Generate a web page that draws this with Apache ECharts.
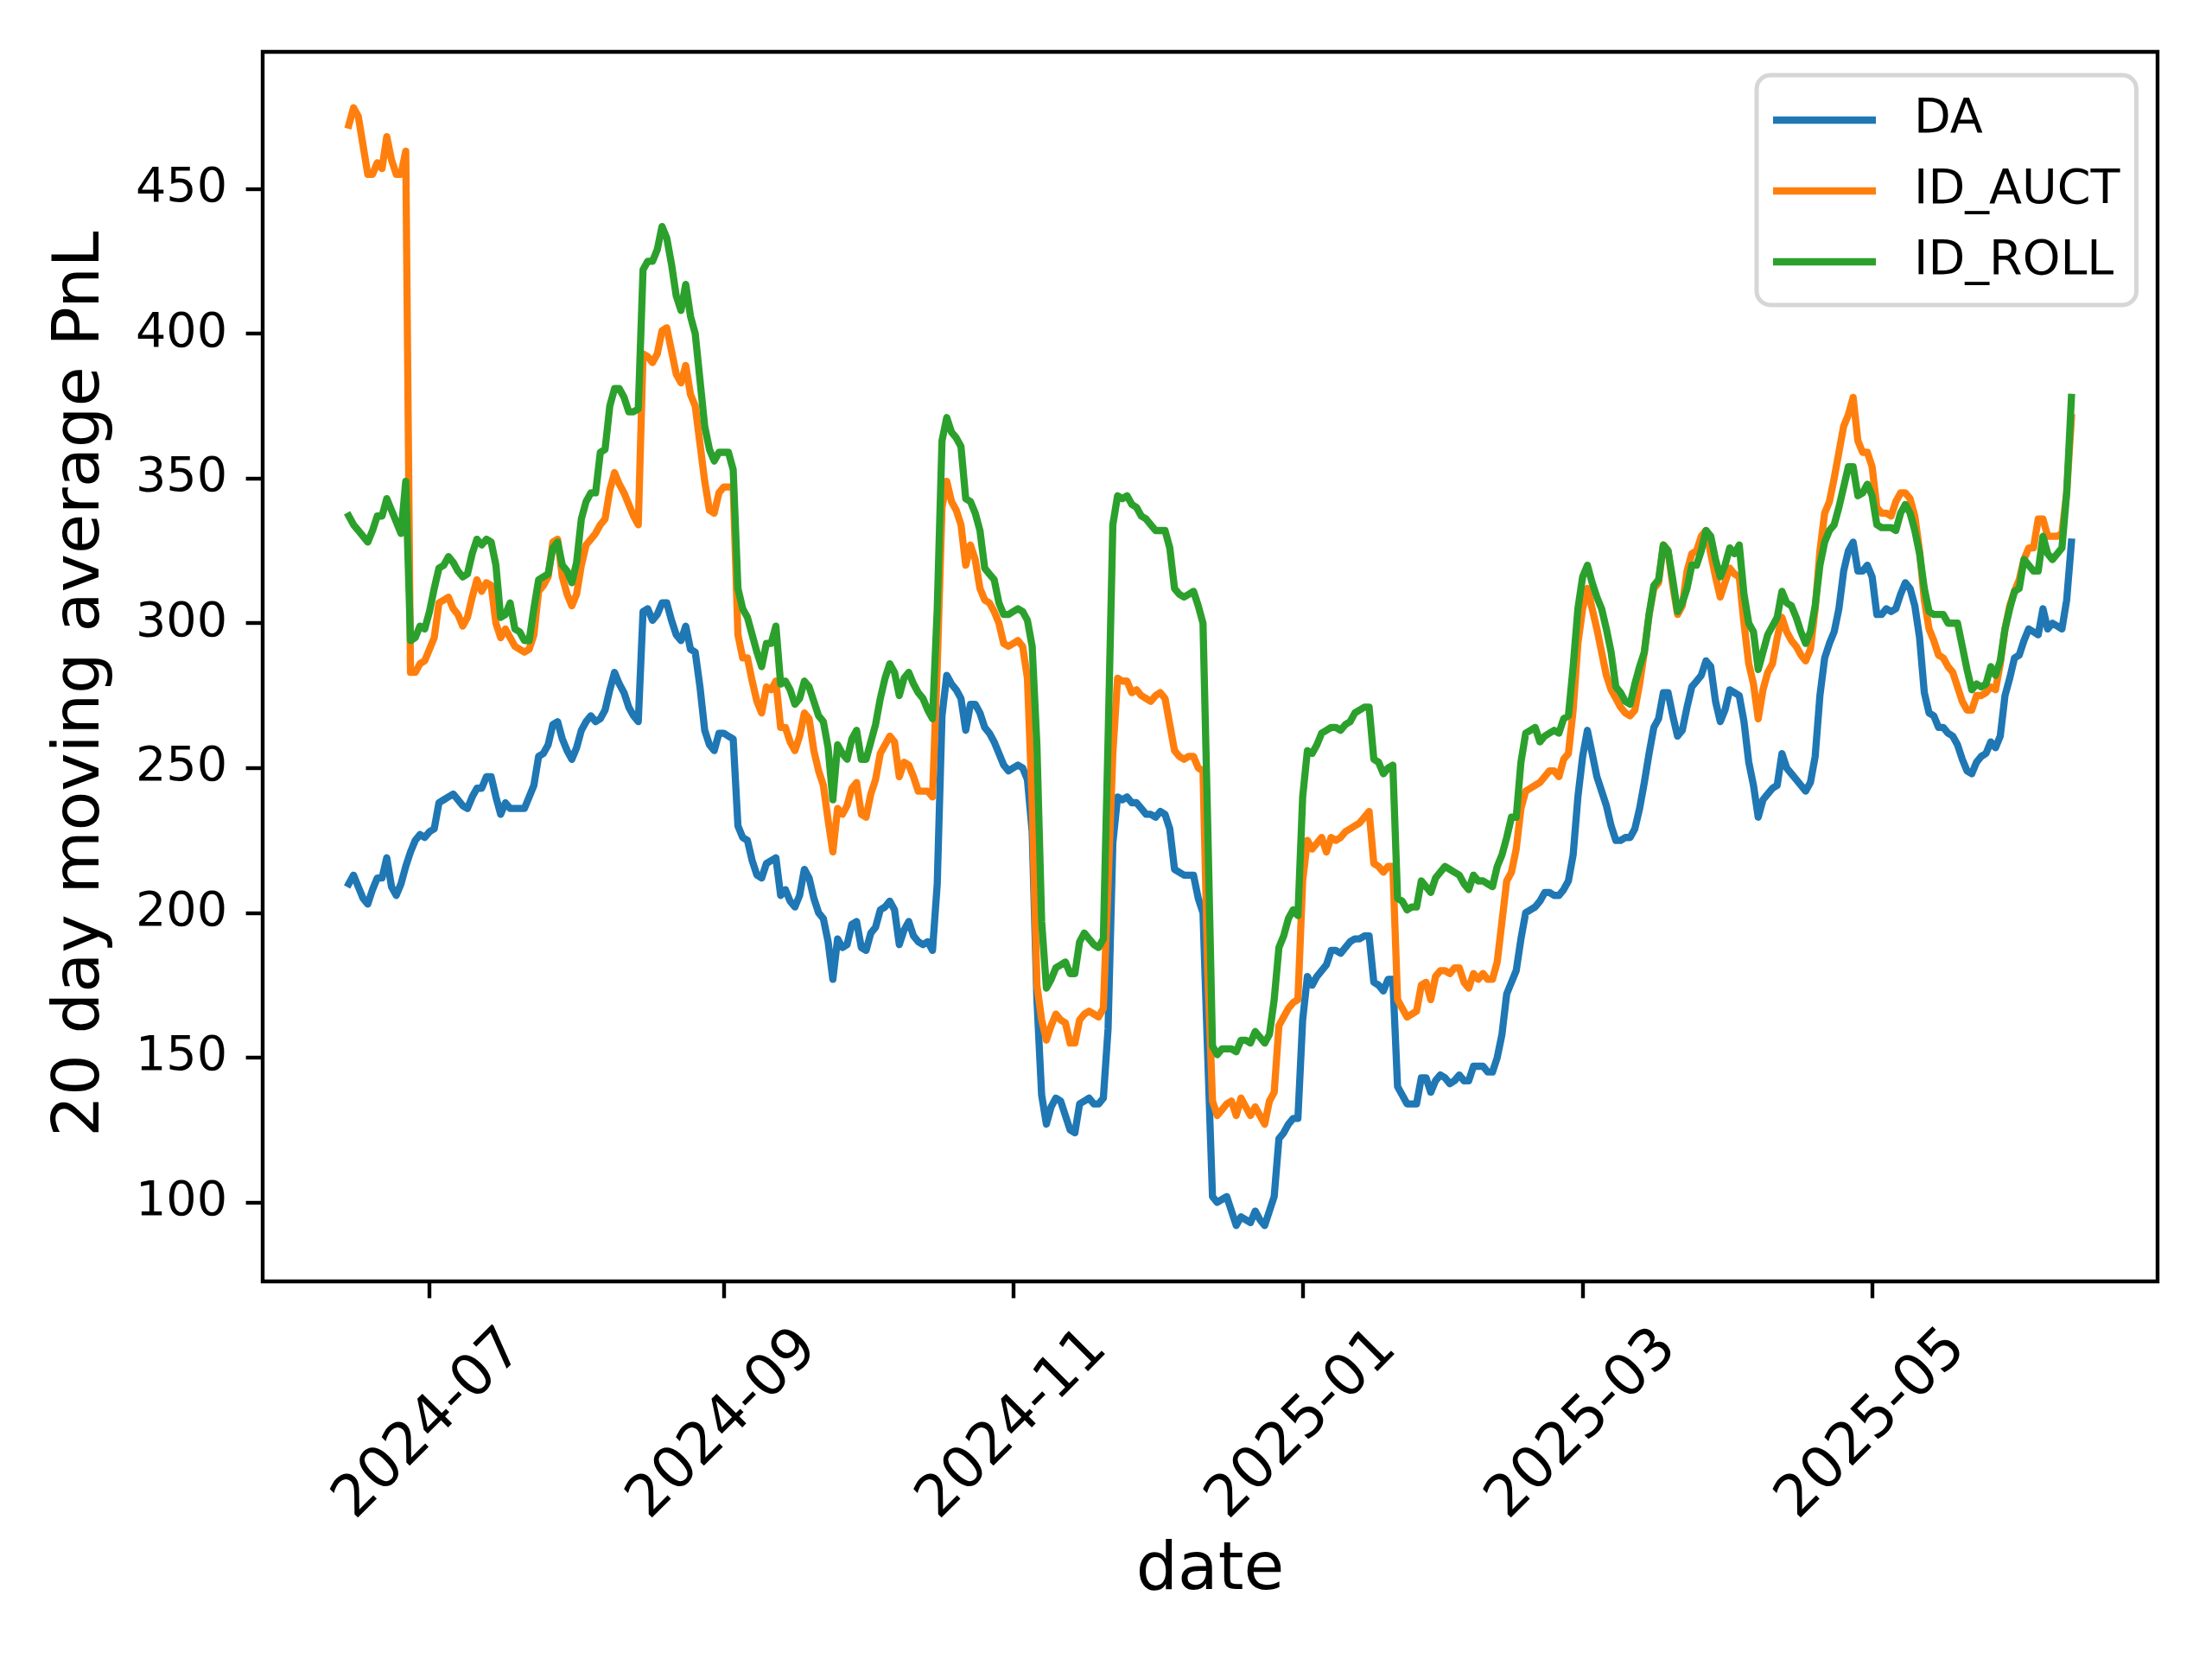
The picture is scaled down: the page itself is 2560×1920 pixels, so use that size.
<!DOCTYPE html>
<html>
<head>
<meta charset="utf-8">
<script src="https://cdn.jsdelivr.net/npm/echarts@6/dist/echarts.min.js"></script>
<style>
html,body{margin:0;padding:0;background:#ffffff;}
#chart{width:2560px;height:1920px;}
</style>
</head>
<body>
<div id="chart"></div>
<script>
// ---- data (daily, first date below) ----
const START_DATE = '2024-06-14';
const seriesNames = ['DA', 'ID_AUCT', 'ID_ROLL'];

const DA = [
210,213,209,205,203,208,212,212,219,209,206,210,216,
221,225,227,226,
228,229,238,239,240,241,239,237,236,240,
243,243,247,247,240,234,238,236,236,236,
236,240,244,254,255,258,265,266,260,256,
253,257,263,266,268,266,267,270,277,283,
279,276,271,268,266,304,305,301,303,307,
307,301,296,294,299,291,290,278,263,258,
256,262,262,261,260,230,226,225,218,213,
212,217,218,219,206,208,204,202,206,215,
212,205,200,198,190,177,191,188,189,196,
197,188,187,193,195,201,202,204,201,189,
194,197,192,190,189,190,187,210,268,282,
279,277,274,263,272,272,269,264,262,259,
255,251,249,250,251,250,246,228,170,137,
127,133,136,135,130,125,124,134,135,136,
134,134,136,160,224,240,239,240,238,238,
236,234,234,233,235,234,229,215,214,213,
213,213,205,200,150,102,100,101,102,97,
92,95,94,93,97,94,92,97,102,122,
124,127,129,129,163,178,175,178,180,182,
187,187,186,188,190,191,191,192,192,176,
175,173,177,177,140,137,134,134,134,143,
143,138,142,144,143,141,142,144,142,142,
147,147,147,145,145,150,158,172,176,180,
191,200,201,202,204,207,207,206,206,208,
211,220,240,254,263,255,247,242,237,230,
225,225,226,226,229,236,245,255,264,267,
276,276,268,261,263,271,278,280,282,287,
285,273,266,270,277,276,275,266,252,244,
233,239,241,243,244,255,250,248,246,244,
242,245,254,275,288,293,297,305,318,325,
328,318,318,320,316,303,303,305,304,305,
310,314,312,306,295,276,269,268,264,264,
262,261,258,253,249,248,252,254,255,259,
257,261,275,281,288,289,294,298,297,296,
305,298,300,299,298,308,328
];

const ID_AUCT = [
472,478,475,465,455,455,459,457,468,460,455,455,463,
283,283,286,287,
291,295,307,308,309,305,303,299,302,309,
315,311,314,313,300,295,298,295,292,291,
290,291,296,311,313,316,328,329,316,310,
306,310,320,327,329,331,334,336,346,352,
348,345,341,337,334,393,392,390,393,401,
402,394,386,383,389,379,375,362,349,339,
338,345,347,347,347,296,288,288,280,273,
269,278,277,280,264,264,259,256,261,269,
267,256,249,244,232,221,236,234,237,243,
245,234,233,241,246,255,258,261,259,247,
252,251,247,242,242,242,240,285,340,349,
342,339,334,320,327,322,312,308,307,304,
300,293,292,293,294,292,281,238,175,163,
156,161,165,163,162,155,155,163,165,166,
165,164,167,210,255,281,280,280,276,277,
275,274,273,275,276,274,265,256,254,253,
254,254,250,249,180,135,130,132,134,135,
130,136,133,130,133,130,127,135,138,161,
164,167,169,170,211,225,222,224,226,221,
226,225,226,228,229,230,231,233,235,217,
216,214,216,216,170,167,164,165,166,175,
176,170,178,180,180,179,181,181,176,174,
179,177,179,177,177,183,197,211,214,222,
236,242,243,244,245,247,249,249,247,253,
255,270,293,305,312,305,298,290,282,277,
274,271,269,268,270,279,290,303,312,314,
327,325,313,303,306,318,324,325,330,332,
324,316,309,314,319,317,316,300,286,279,
267,277,283,286,295,302,297,294,292,289,
287,291,305,325,338,342,350,359,368,372,
378,363,359,359,354,340,338,338,337,342,
345,345,343,337,325,308,298,294,289,288,
285,283,278,273,270,270,275,275,276,278,
277,286,298,306,311,315,322,326,326,336,
336,330,330,330,331,345,371
];

const ID_ROLL = [
337,334,332,330,328,332,337,337,343,339,335,331,349,
294,295,299,298,
304,312,319,320,323,321,318,316,317,324,
329,327,329,328,320,302,303,307,298,297,
294,294,305,315,316,317,326,328,320,318,
314,321,336,342,345,345,359,360,375,381,
381,378,373,373,374,422,425,425,429,437,
433,424,413,408,417,406,400,384,368,360,
356,359,359,359,353,312,305,302,296,290,
285,293,293,299,279,280,277,272,274,280,
278,273,268,266,257,239,258,255,253,260,
263,253,253,259,265,274,281,286,283,275,
281,283,279,276,274,270,267,305,363,371,
366,364,361,343,342,338,332,319,317,315,
307,303,303,304,305,304,301,292,258,197,
174,177,181,182,183,179,179,190,193,191,
189,188,191,260,334,344,343,344,341,340,
337,336,334,332,332,332,326,312,310,309,
310,311,306,300,230,154,151,153,153,153,
152,156,156,155,159,157,155,158,170,188,
192,198,201,199,240,256,255,258,262,263,
264,264,263,265,266,269,270,271,271,253,
252,248,250,251,205,204,201,202,202,211,
209,207,212,214,216,215,214,213,210,208,
213,211,211,210,209,216,220,226,233,233,
252,262,263,264,259,261,262,263,262,267,
268,285,305,316,320,314,309,305,298,290,
278,276,273,272,279,285,290,303,313,315,
327,325,315,304,307,312,320,320,325,332,
330,322,316,320,326,324,327,310,300,297,
284,290,296,299,302,311,307,306,302,297,
293,297,306,320,328,332,334,340,347,354,
354,344,345,348,344,334,333,333,333,332,
338,341,338,332,324,312,304,303,303,303,
300,300,300,292,284,277,279,278,279,285,
282,287,298,305,311,312,322,320,318,318,
330,324,322,324,326,345,378
];

const xTickLabels = ['2024-07', '2024-09', '2024-11', '2025-01', '2025-03', '2025-05'];
const yTickValues = [100, 150, 200, 250, 300, 350, 400, 450];
const xAxisTitle = 'date';
const yAxisTitle = '20 day moving average PnL';
const colors = ['#1f77b4', '#ff7f0e', '#2ca02c'];

// ---- build ----
const DAY = 86400000;
const t0 = Date.parse(START_DATE + 'T00:00:00Z');
const dates = DA.map((_, i) => t0 + i * DAY);
const toPairs = arr => arr.map((v, i) => [dates[i], v]);
const xTicks = xTickLabels.map(s => Date.parse(s + '-01T00:00:00Z'));

const tSpan = dates[dates.length - 1] - dates[0];
const xMin = dates[0] - 0.05 * tSpan;
const xMax = dates[dates.length - 1] + 0.05 * tSpan;
const allVals = DA.concat(ID_AUCT, ID_ROLL);
const vMin = Math.min.apply(null, allVals);
const vMax = Math.max.apply(null, allVals);
const vSpan = vMax - vMin;
const yMin = vMin - 0.05 * vSpan;
const yMax = vMax + 0.05 * vSpan;

const FONT = 'DejaVu Sans';
const LW = 8.3;
const SPINE = 4.4;

const seriesData = [DA, ID_AUCT, ID_ROLL];

const chart = echarts.init(document.getElementById('chart'), null, {renderer: 'canvas'});
chart.setOption({
  animation: false,
  backgroundColor: '#ffffff',
  grid: {
    left: 304, top: 60, width: 2193, height: 1423,
    show: true, borderColor: '#000000', borderWidth: SPINE, backgroundColor: 'transparent'
  },
  xAxis: {
    type: 'value',
    min: xMin, max: xMax,
    scale: true,
    name: xAxisTitle,
    nameLocation: 'middle',
    nameGap: 298,
    nameTextStyle: {fontFamily: FONT, fontSize: 76, color: '#000'},
    axisLine: {show: false},
    splitLine: {show: false},
    axisTick: {show: true, inside: false, length: 19.4, customValues: xTicks,
      lineStyle: {color: '#000', width: SPINE}},
    axisLabel: {
      customValues: xTicks,
      rotate: 45, align: 'center', verticalAlign: 'middle', margin: 166,
      fontFamily: FONT, fontSize: 66.7, color: '#000',
      formatter: function (v) {
        const i = xTicks.indexOf(v);
        return i >= 0 ? xTickLabels[i] : '';
      }
    }
  },
  yAxis: {
    type: 'value',
    min: yMin, max: yMax,
    name: yAxisTitle,
    nameLocation: 'middle',
    nameRotate: 90,
    nameGap: 172,
    nameTextStyle: {fontFamily: FONT, fontSize: 75, color: '#000', padding: [0, 40, 0, 0]},
    axisLine: {show: false},
    splitLine: {show: false},
    axisTick: {show: true, inside: false, length: 19.4, customValues: yTickValues,
      lineStyle: {color: '#000', width: SPINE}},
    axisLabel: {
      customValues: yTickValues,
      margin: 41,
      fontFamily: FONT, fontSize: 55.6, color: '#000',
      formatter: v => String(v)
    }
  },
  legend: {
    data: seriesNames,
    orient: 'vertical',
    left: 2033, top: 87,
    itemWidth: 119, itemHeight: LW, itemGap: 22,
    padding: [22, 19, 20, 19],
    icon: 'rect',
    borderColor: '#d6d6d6', borderWidth: 5, borderRadius: 16,
    backgroundColor: 'rgba(255,255,255,0.8)',
    textStyle: {fontFamily: FONT, fontSize: 55.6, color: '#000', lineHeight: 60, padding: [0, 0, 0, 39]}
  },
  series: seriesNames.map((name, k) => ({
    name: name,
    type: 'line',
    data: toPairs(seriesData[k]),
    showSymbol: false,
    symbol: 'none',
    smooth: false,
    lineStyle: {width: LW, color: colors[k], cap: 'square', join: 'round'},
    itemStyle: {color: colors[k]},
    emphasis: {disabled: true},
    z: 2 + k
  }))
});
</script>
</body>
</html>
